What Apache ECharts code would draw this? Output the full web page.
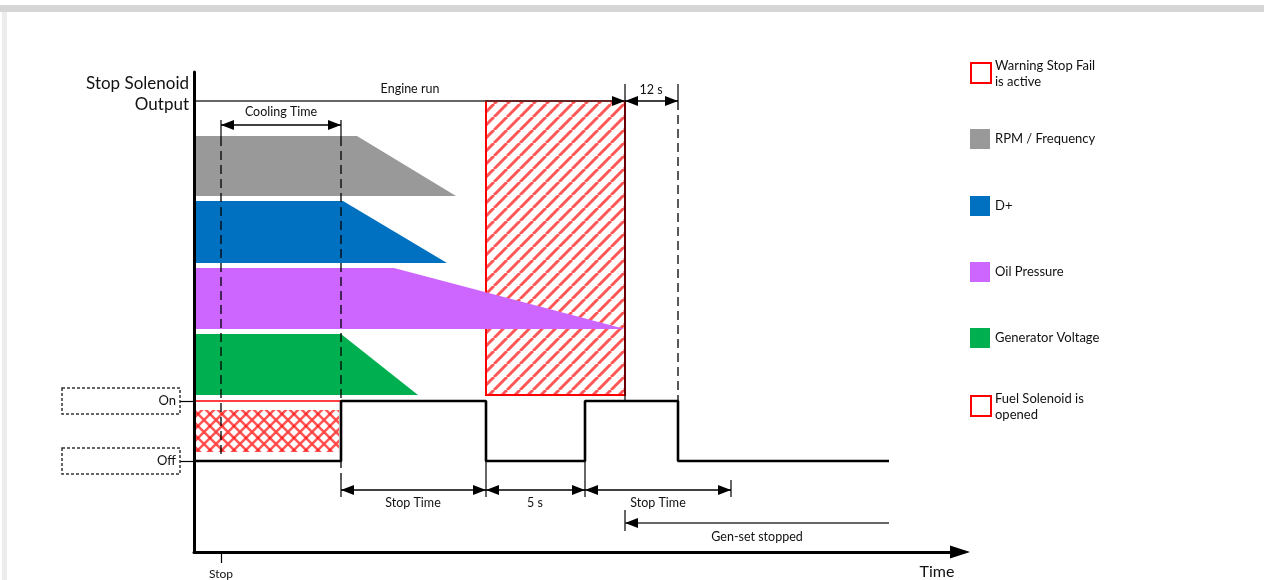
<!DOCTYPE html>
<html>
<head>
<meta charset="utf-8">
<title>Stop Solenoid Output</title>
<script src="https://cdn.jsdelivr.net/npm/echarts@6/dist/echarts.min.js"></script>
<style>
html, body { margin: 0; padding: 0; background: #fff; }
#main { width: 1264px; height: 580px; }
</style>
</head>
<body>
<div id="main"></div>
<script>
// output levels
var ON = 151, OFF = 91;

// bands: end of flat part, end of ramp, top, bottom
var bandNames = ['RPM / Frequency', 'D+', 'Oil Pressure', 'Generator Voltage'];
var bandColors = ['#999999', '#0070C0', '#CC66FF', '#00B050'];
var bandFlatEnd = [163, 149, 200, 147];
var bandRampEnd = [262, 253, 431, 224];
var bandTop = [416, 351, 284, 218];
var bandBottom = [356, 289, 223, 157];

// stop solenoid output (step line)
var signalTimes = [0, 147, 292, 391, 484, 695];
var signalLevels = [OFF, ON, OFF, ON, OFF, OFF];

// warning stop fail is active
var warnTimes = [292, 431];
var warnLevels = [157, 451];
// fuel solenoid is opened
var fuelTimes = [0, 147];
var fuelLevels = [OFF, ON];

// dashed guide lines
var dashX = [27, 147, 484];
var dashFrom = [415, 415, 451];
var dashTo = [97, 72, 151];

// short solid lines
var tickX = [27, 147, 431, 484, 431, 147, 292, 391, 537, 431];
var tickFrom = [432, 432, 468, 468, 451, 72, 91, 91, 72, 42];
var tickTo = [415, 415, 451, 451, 151, 55, 55, 55, 55, 21];

// double arrows
var dimFrom = [27, 431, 147, 292, 391];
var dimTo = [147, 484, 292, 391, 537];
var dimLevel = [427, 451, 62, 62, 62];

// single arrows, head at "to"
var arrowFrom = [0, 695];
var arrowTo = [431, 431];
var arrowLevel = [451, 29];

// notes
var noteText = ['Engine run', '12 s', 'Cooling Time', 'Stop Time', '5 s', 'Stop Time', 'Gen-set stopped'];
var noteX = [216, 457, 87, 219, 341, 464, 563];
var noteY = [463, 462, 440, 49, 49, 49, 15];

var legendNames = ['Warning Stop Fail\nis active', 'RPM / Frequency', 'D+', 'Oil Pressure', 'Generator Voltage', 'Fuel Solenoid is\nopened'];
var legendColors = [null, '#999999', '#0070C0', '#CC66FF', '#00B050', null];

var FONT = 'Lato, "Open Sans", sans-serif';

function hatch(size, cross, width) {
    var c = document.createElement('canvas');
    c.width = c.height = size;
    var g = c.getContext('2d');
    g.strokeStyle = 'rgba(255,30,30,0.75)';
    g.lineWidth = width;
    for (var k = -size; k <= size; k += size) {
        g.beginPath(); g.moveTo(k, size); g.lineTo(k + size, 0); g.stroke();
        if (cross) {
            g.beginPath(); g.moveTo(k, 0); g.lineTo(k + size, size); g.stroke();
        }
    }
    return c;
}
var warnPattern = hatch(13, false, 3);
var fuelPattern = hatch(12, true, 2.6);

var myChart = echarts.init(document.getElementById('main'));

var series = [];

// warning area
series.push({
    type: 'custom', z: 1,
    data: [[warnTimes[0], warnLevels[0], warnTimes[1], warnLevels[1]]],
    encode: { x: [0, 2], y: [1, 3] },
    renderItem: function (params, api) {
        var a = api.coord([api.value(0), api.value(3)]);
        var b = api.coord([api.value(2), api.value(1)]);
        return {
            type: 'rect',
            shape: { x: a[0], y: a[1], width: b[0] - a[0], height: b[1] - a[1] },
            style: { fill: { image: warnPattern, repeat: 'repeat' }, stroke: '#FF0000', lineWidth: 2 }
        };
    }
});

// fuel solenoid area
series.push({
    type: 'custom', z: 1,
    data: [[fuelTimes[0], fuelLevels[0], fuelTimes[1], fuelLevels[1]]],
    encode: { x: [0, 2], y: [1, 3] },
    renderItem: function (params, api) {
        var a = api.coord([api.value(0), api.value(3)]);
        var b = api.coord([api.value(2), api.value(1)]);
        return {
            type: 'group',
            children: [{
                type: 'rect',
                shape: { x: a[0], y: a[1], width: b[0] - a[0], height: b[1] - a[1] },
                style: { fill: null, stroke: '#FF0000', lineWidth: 1.5 }
            }, {
                type: 'rect',
                shape: { x: a[0] + 2, y: a[1] + 9, width: b[0] - a[0] - 4, height: b[1] - a[1] - 18 },
                style: { fill: { image: fuelPattern, repeat: 'repeat' } }
            }]
        };
    }
});

// bands
bandNames.forEach(function (name, i) {
    series.push({
        type: 'custom', name: name, z: 2,
        itemStyle: { color: bandColors[i] },
        data: [[0, bandFlatEnd[i], bandRampEnd[i], bandTop[i], bandBottom[i]]],
        encode: { x: [0, 1, 2], y: [3, 4] },
        renderItem: function (params, api) {
            var p = [
                api.coord([api.value(0), api.value(3)]),
                api.coord([api.value(1), api.value(3)]),
                api.coord([api.value(2), api.value(4)]),
                api.coord([api.value(0), api.value(4)])
            ];
            return { type: 'polygon', shape: { points: p }, style: { fill: api.visual('color') } };
        }
    });
});

// dashed guides
series.push({
    type: 'custom', z: 3,
    data: dashX.map(function (x, i) { return [x, dashFrom[i], dashTo[i]]; }),
    encode: { x: 0, y: [1, 2] },
    renderItem: function (params, api) {
        var a = api.coord([api.value(0), api.value(1)]);
        var b = api.coord([api.value(0), api.value(2)]);
        return {
            type: 'line',
            shape: { x1: a[0], y1: a[1], x2: b[0], y2: b[1] },
            style: { stroke: '#000', lineWidth: 1.3, lineDash: [9, 5] }
        };
    }
});

// solid short lines
series.push({
    type: 'custom', z: 3,
    data: tickX.map(function (x, i) { return [x, tickFrom[i], tickTo[i]]; }),
    encode: { x: 0, y: [1, 2] },
    renderItem: function (params, api) {
        var a = api.coord([api.value(0), api.value(1)]);
        var b = api.coord([api.value(0), api.value(2)]);
        return {
            type: 'line',
            shape: { x1: a[0], y1: a[1], x2: b[0], y2: b[1] },
            style: { stroke: '#000', lineWidth: 1.2 }
        };
    }
});

function head(tip, dir) {
    var L = 13, W = 5;
    return {
        type: 'polygon',
        shape: { points: [[tip[0], tip[1]], [tip[0] - dir * L, tip[1] - W], [tip[0] - dir * L, tip[1] + W]] },
        style: { fill: '#000' }
    };
}

// double arrows
series.push({
    type: 'custom', z: 4,
    data: dimFrom.map(function (x, i) { return [x, dimTo[i], dimLevel[i]]; }),
    encode: { x: [0, 1], y: 2 },
    renderItem: function (params, api) {
        var a = api.coord([api.value(0), api.value(2)]);
        var b = api.coord([api.value(1), api.value(2)]);
        return {
            type: 'group',
            children: [{
                type: 'line',
                shape: { x1: a[0], y1: a[1], x2: b[0], y2: b[1] },
                style: { stroke: '#000', lineWidth: 1.5 }
            }, head(a, -1), head(b, 1)]
        };
    }
});

// single arrows
series.push({
    type: 'custom', z: 4,
    data: arrowFrom.map(function (x, i) { return [x, arrowTo[i], arrowLevel[i]]; }),
    encode: { x: [0, 1], y: 2 },
    renderItem: function (params, api) {
        var a = api.coord([api.value(0), api.value(2)]);
        var b = api.coord([api.value(1), api.value(2)]);
        return {
            type: 'group',
            children: [{
                type: 'line',
                shape: { x1: a[0], y1: a[1], x2: b[0], y2: b[1] },
                style: { stroke: '#333', lineWidth: 1.5 }
            }, head(b, b[0] > a[0] ? 1 : -1)]
        };
    }
});

// output signal
series.push({
    type: 'line', z: 6, step: 'end', symbol: 'none', silent: true,
    lineStyle: { color: '#000', width: 2.6 },
    data: signalTimes.map(function (t, i) { return [t, signalLevels[i]]; })
});

// notes
series.push({
    type: 'custom', z: 5,
    data: noteX.map(function (x, i) { return [x, noteY[i]]; }),
    renderItem: function (params, api) {
        var p = api.coord([api.value(0), api.value(1)]);
        return {
            type: 'text', x: p[0], y: p[1],
            style: {
                text: noteText[params.dataIndex], fill: '#111',
                fontSize: 12.5, fontFamily: FONT, align: 'center', verticalAlign: 'middle'
            }
        };
    }
});

// legend and frame
var graphic = [
    { type: 'rect', left: 0, top: 5, shape: { width: 1264, height: 7 }, style: { fill: '#d6d6d6' } },
    { type: 'rect', left: 2, top: 12, shape: { width: 5, height: 568 }, style: { fill: '#ececec' } }
];
var legendTop = [62, 129, 196, 262, 328, 395];
legendNames.forEach(function (name, i) {
    var filled = legendColors[i] !== null;
    var twoLines = name.indexOf('\n') >= 0;
    graphic.push({
        type: 'rect', left: 970, top: legendTop[i],
        shape: { width: 20, height: 20 },
        style: filled ? { fill: legendColors[i] } : { fill: '#fff', stroke: '#FF0000', lineWidth: 2 }
    });
    graphic.push({
        type: 'text', x: 995, y: legendTop[i] + (twoLines ? 12 : 10),
        style: {
            text: name, fill: '#111', fontSize: 13, fontFamily: FONT,
            lineHeight: 16, align: 'left', verticalAlign: 'middle'
        }
    });
});

option = {
    animation: false,
    backgroundColor: '#fff',
    grid: { left: 194, right: 304, top: 72, bottom: 28 },
    xAxis: {
        type: 'value', min: 0, max: 766, z: 10,
        splitLine: { show: false },
        axisLine: {
            show: true, symbol: ['none', 'triangle'], symbolSize: [13, 20],
            lineStyle: { color: '#000', width: 3 }
        },
        axisTick: { show: true, customValues: [27], length: 11, lineStyle: { color: '#000', width: 1.2 } },
        axisLabel: {
            show: true, customValues: [27], margin: 16,
            formatter: function () { return 'Stop'; },
            color: '#111', fontSize: 12, fontFamily: FONT
        },
        name: 'Time', nameLocation: 'end', nameGap: -23,
        nameTextStyle: {
            fontSize: 16, fontFamily: FONT, color: '#111',
            align: 'center', verticalAlign: 'top', padding: [12, 0, 0, 0]
        }
    },
    yAxis: {
        type: 'value', min: 0, max: 480, z: 10,
        splitLine: { show: false },
        axisLine: { show: true, lineStyle: { color: '#000', width: 3 } },
        axisTick: { show: true, customValues: [OFF, ON], length: 14, lineStyle: { color: '#000', width: 1.2 } },
        axisLabel: {
            show: true, customValues: [OFF, ON], margin: 14,
            formatter: function (v) { return v === ON ? 'On' : 'Off'; },
            color: '#111', fontSize: 13, fontFamily: FONT,
            width: 110, align: 'right', lineHeight: 18,
            padding: [4, 4, 4, 4],
            borderColor: '#333', borderWidth: 1.5, borderType: [3, 2]
        },
        name: 'Stop Solenoid\nOutput', nameLocation: 'end', nameGap: -22,
        nameTextStyle: {
            fontSize: 17, fontFamily: FONT, color: '#111', lineHeight: 21,
            align: 'right', verticalAlign: 'middle', padding: [0, 5, 0, 0]
        }
    },
    graphic: graphic,
    series: series
};

myChart.setOption(option);
</script>
</body>
</html>
